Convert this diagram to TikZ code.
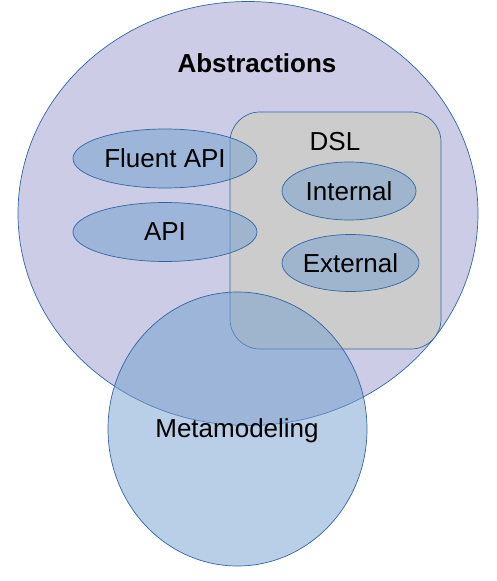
\documentclass[tikz,border=0pt]{standalone}
\usepackage{fontspec}
\setmainfont{Liberation Sans}
\usetikzlibrary{shapes.geometric}
\definecolor{lav}{HTML}{CCCCE6}
\definecolor{dslgray}{HTML}{CCCCCC}
\definecolor{bl}{HTML}{729FCF}
\definecolor{edge}{HTML}{3465A4}
\begin{document}
\begin{tikzpicture}[x=1pt,y=-1pt,
  every node/.style={font=\fontsize{26}{31}\selectfont, inner sep=0pt},
  blob/.style={draw=edge, line width=0.7pt, fill=bl, fill opacity=0.5, text opacity=1},
]
\useasboundingbox (0,0) rectangle (497,581);
\draw[draw=edge, line width=0.7pt, fill=lav] (248,213.5) ellipse [x radius=230, y radius=212];
\node[draw=edge, line width=0.7pt, fill=dslgray, rounded corners=30pt, minimum width=211pt, minimum height=237pt] (dsl) at (335.5,230.5) {};
\node[blob, ellipse, minimum width=184pt, minimum height=59pt] (fluent) at (165,158.5) {Fluent API};
\node[blob, ellipse, minimum width=184pt, minimum height=59pt] (api) at (165,232) {API};
\node (dsllabel) at (335,142) {DSL};
\node[blob, ellipse, minimum width=134pt, minimum height=58pt] (internal) at (349,191) {Internal};
\node[blob, ellipse, minimum width=137pt, minimum height=57pt] (external) at (350.5,263) {External};
\node[blob, ellipse, minimum width=259pt, minimum height=274pt] (meta) at (237.5,429) {};
\node (metalabel) at (237,431) {Metamodeling};
\node[font=\fontsize{26}{31}\selectfont\bfseries] (abs) at (257,63) {Abstractions};
\end{tikzpicture}
\end{document}
